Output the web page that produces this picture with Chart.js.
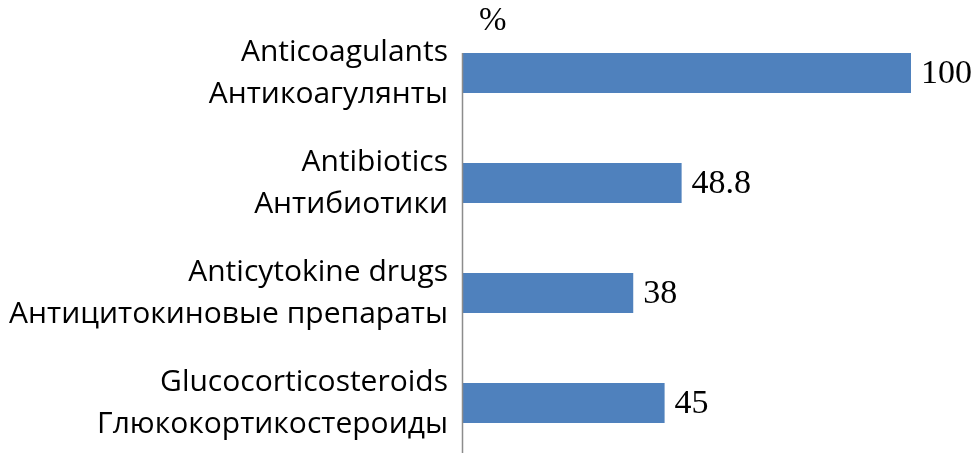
<!DOCTYPE html>
<html>
<head>
<meta charset="utf-8">
<script src="https://cdn.jsdelivr.net/npm/chart.js@4.4.0/dist/chart.umd.min.js"></script>
<style>
  html, body { margin: 0; padding: 0; background: #fff; overflow: hidden; }
  #wrap { width: 979px; height: 470px; }
</style>
</head>
<body>
<div id="wrap"><canvas id="chart" width="979" height="470"></canvas></div>
<script>
// categories (English / Russian) and values, %
const labelsEn = ['Anticoagulants', 'Antibiotics', 'Anticytokine drugs', 'Glucocorticosteroids']
const labelsRu = ['Антикоагулянты', 'Антибиотики', 'Антицитокиновые препараты', 'Глюкокортикостероиды']
const values = [100, 48.8, 38, 45]
const unitLabel = '%'

let labels = labelsEn.map((en, i) => [en, labelsRu[i]])

// value text at the end of each bar
const valueLabels = {
    id: 'valueLabels',
    afterDatasetsDraw(chart) {
        const ctx = chart.ctx
        const meta = chart.getDatasetMeta(0)
        ctx.save()
        ctx.font = '34px "Liberation Serif"'
        ctx.fillStyle = '#000'
        ctx.textAlign = 'left'
        ctx.textBaseline = 'middle'
        meta.data.forEach((bar, i) => {
            ctx.fillText(String(values[i]), bar.x + 10, bar.y + 1)
        })
        ctx.restore()
    }
}

// vertical axis line + "%" mark
const axisLine = {
    id: 'axisLine',
    afterDatasetsDraw(chart) {
        const ctx = chart.ctx
        const area = chart.chartArea
        const first = chart.getDatasetMeta(0).data[0]
        const top = first.y - first.height / 2
        ctx.save()
        ctx.strokeStyle = '#8c8c8c'
        ctx.lineWidth = 1.5
        ctx.beginPath()
        ctx.moveTo(area.left - 0.5, top)
        ctx.lineTo(area.left - 0.5, chart.height)
        ctx.stroke()
        ctx.font = '33px "Liberation Serif"'
        ctx.fillStyle = '#000'
        ctx.textAlign = 'left'
        ctx.textBaseline = 'middle'
        ctx.fillText(unitLabel, area.left + 16, 21)
        ctx.restore()
    }
}

const config = {
    type: 'bar',
    data: {
        labels: labels,
        datasets: [{
            data: values,
            backgroundColor: '#4F81BD',
            borderWidth: 0,
            barPercentage: 1,
            categoryPercentage: 40 / 110
        }]
    },
    options: {
        indexAxis: 'y',
        responsive: false,
        animation: false,
        layout: {
            padding: { top: 18, bottom: 12, left: 0, right: 68 }
        },
        scales: {
            x: {
                display: false,
                min: 0,
                max: 100
            },
            y: {
                grid: { display: false, drawTicks: false, tickLength: 0 },
                border: { display: false },
                afterFit(scale) {
                    scale.width = 463
                    scale.paddingTop = 0
                    scale.paddingBottom = 0
                },
                ticks: {
                    padding: 15,
                    color: '#000',
                    font: { family: '"Open Sans"', size: 30, lineHeight: 1.4 }
                }
            }
        },
        plugins: {
            legend: { display: false },
            tooltip: { enabled: false }
        }
    },
    plugins: [valueLabels, axisLine]
}

const myChart = new Chart(document.getElementById('chart'), config)
</script>
</body>
</html>
